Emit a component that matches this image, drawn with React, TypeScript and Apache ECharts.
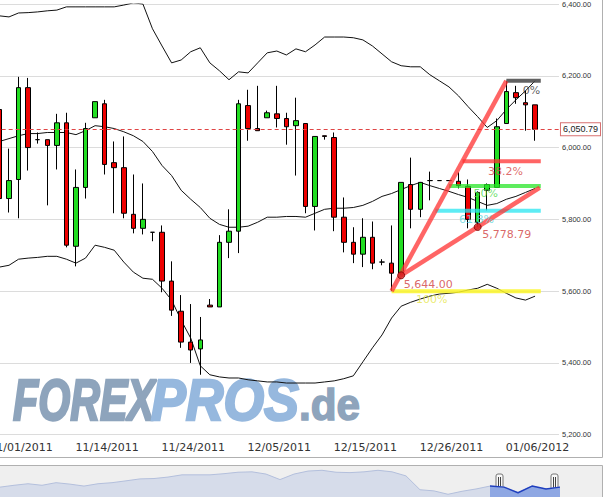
import React, { useEffect, useRef } from "react";
import * as echarts from "echarts";

// ---------- data ----------
const tickLabels = ["11/01/2011", "11/14/2011", "11/24/2011", "12/05/2011", "12/15/2011", "12/26/2011", "01/06/2012"];
const tickCandles = [2, 11, 20, 29, 38, 47, 56];
const slotCount = 59;

const openP = [6106, 5858, 5911, 6167, 6022, 6022, 6006, 6069, 5725, 5889, 6083, 6122, 5958, 5944, 5814, 5775, 5764, 5764, 5628, 5544, 5458, 5439, 5561, 5556, 5736, 5767, 6117, 6053, 6083, 6094, 6081, 6061, 6067, 5836, 6033, 6028, 5806, 5736, 5703, 5750, 5681, 5678, 5650, 5897, 5828, 5908, 5908, 5908, 5906, 5892, 5792, 5881, 5889, 6067, 6153, 6125, 6119];
const closeP = [5858, 5908, 6167, 6000, 6022, 6006, 6069, 5728, 5889, 6053, 6128, 5953, 5944, 5817, 5775, 5800, 5764, 5628, 5547, 5458, 5436, 5464, 5556, 5736, 5767, 6122, 6053, 6047, 6097, 6081, 6058, 6075, 5836, 6031, 6031, 5806, 5736, 5703, 5750, 5678, 5681, 5650, 5903, 5828, 5903, 5908, 5908, 5908, 5894, 5800, 5875, 5897, 6058, 6156, 6139, 6119, 6050.79];
const lowP = [5850, 5819, 5803, 5936, 6011, 5839, 5939, 5722, 5669, 5858, 6083, 5925, 5817, 5803, 5761, 5758, 5739, 5597, 5531, 5442, 5400, 5367, 5556, 5556, 5692, 5706, 6019, 6047, 6083, 6056, 6008, 5922, 5817, 5769, 6022, 5767, 5708, 5678, 5667, 5661, 5672, 5600, 5644, 5775, 5806, 5853, 5908, 5908, 5886, 5775, 5778.79, 5825, 5889, 6067, 6122, 6047, 6019];
const highP = [6117, 5997, 6197, 6194, 6042, 6022, 6094, 6097, 5939, 6069, 6128, 6133, 6017, 6031, 5925, 5900, 5764, 5783, 5683, 5589, 5564, 5528, 5578, 5756, 5828, 6133, 6161, 6172, 6103, 6172, 6097, 6139, 6067, 6031, 6033, 6042, 5861, 5778, 5803, 5794, 5689, 5783, 5903, 5972, 5903, 5933, 5908, 5908, 5931, 5911, 5878, 5900, 6081, 6186, 6172, 6158, 6119];

const upperBand = [6367, 6364, 6375, 6376, 6378, 6381, 6383, 6392, 6392, 6392, 6392, 6392, 6392, 6397, 6403, 6400, 6331, 6283, 6236, 6244, 6267, 6278, 6236, 6214, 6189, 6211, 6208, 6236, 6264, 6269, 6258, 6275, 6267, 6286, 6308, 6308, 6308, 6306, 6300, 6283, 6261, 6239, 6228, 6225, 6225, 6203, 6186, 6169, 6144, 6114, 6086, 6056, 6075, 6106, 6133, 6158, 6186];
const middleBand = [6017, 6025, 6033, 6039, 6039, 6042, 6042, 6042, 6036, 6047, 6061, 6058, 6053, 6044, 6033, 6017, 5989, 5950, 5922, 5881, 5856, 5833, 5803, 5786, 5778, 5778, 5781, 5792, 5806, 5806, 5808, 5808, 5806, 5817, 5828, 5831, 5831, 5833, 5839, 5850, 5864, 5872, 5883, 5894, 5903, 5894, 5886, 5878, 5869, 5861, 5850, 5839, 5844, 5856, 5864, 5875, 5886];
const lowerBand = [5667, 5672, 5689, 5692, 5694, 5697, 5697, 5689, 5678, 5692, 5728, 5722, 5714, 5681, 5653, 5636, 5633, 5608, 5575, 5519, 5469, 5392, 5367, 5361, 5358, 5358, 5353, 5350, 5347, 5347, 5344, 5344, 5344, 5344, 5347, 5350, 5356, 5364, 5403, 5442, 5478, 5525, 5558, 5569, 5578, 5586, 5592, 5594, 5597, 5603, 5608, 5619, 5608, 5594, 5581, 5575, 5586];

const lastPrice = 6050.79;

const fibHigh = { index: 53, value: 6186 };
const fibLow = { index: 41, value: 5600 };
const fibRatios = [0, 0.382, 0.5, 0.618, 1];
const fibNames = ["0%", "38.2%", "50%", "61.8%", "100%"];
const fibEndIndex = 56.6;

const pivotA = { index: 42, value: 5644.0 };
const pivotB = { index: 50, value: 5778.79 };
const trendEndIndex = 56.5;

const navValues = [5919, 6097, 6248, 6097, 6351, 6210, 6022, 6248, 6351, 6530, 6718, 6755, 6896, 7113, 7113, 7113, 7225, 7366, 7404, 7188, 6652, 7188, 7479, 7554, 7366, 7329, 7404, 7554, 7404, 7009, 5665, 5552, 5223, 5515, 5740, 6022, 5919, 5374, 6022, 5740, 5919];
const navSelectedFrom = 35;

// ---------- styles ----------
const OFF = 20; // chart div is shifted 20px left of the page
const fibLineColors = ["rgba(70,70,70,0.85)", "rgba(255,50,50,0.75)", "rgba(40,230,40,0.75)", "rgba(40,230,240,0.75)", "rgba(250,245,40,0.85)"];
const fibTextColors = ["#333333", "#d64545", "#4dd84d", "#5fd8e0", "#e6e64a"];
const fibTextOffsets = [[16, 10], [25, 10], [24, 8], [23, 9], [24, 8]];
const redLine = "rgba(255,50,50,0.75)";

function fmt(v: number) {
  return v.toLocaleString("en-US", { minimumFractionDigits: 2, maximumFractionDigits: 2 });
}

function handle(x: number) {
  return {
    type: "group",
    z: 20,
    children: [
      { type: "rect", shape: { x: x, y: 474, width: 7, height: 17, r: 2 }, style: { fill: "#f8f8f8", stroke: "#777", lineWidth: 1 } },
      { type: "line", shape: { x1: x + 2.5, y1: 477, x2: x + 2.5, y2: 488 }, style: { stroke: "#444", lineWidth: 1 } },
      { type: "line", shape: { x1: x + 4.5, y1: 477, x2: x + 4.5, y2: 488 }, style: { stroke: "#444", lineWidth: 1 } },
    ],
  };
}

export default function App() {
  const ref = useRef<HTMLDivElement>(null);

  useEffect(() => {
    if (!ref.current) return;
    const chart = echarts.init(ref.current, undefined, { renderer: "svg" });

    const categories = Array.from({ length: slotCount }, (_, i) => {
      const k = tickCandles.indexOf(i);
      return k >= 0 ? tickLabels[k] : "";
    });
    const candles = openP.map((o, i) => [o, closeP[i], lowP[i], highP[i]]);

    const span = fibHigh.value - fibLow.value;
    const fibLevels = fibRatios.map((r) => fibHigh.value - r * span);
    const fibStarts = fibLevels.map(
      (lv) => fibLow.index + ((lv - fibLow.value) / span) * (fibHigh.index - fibLow.index)
    );

    const fibSeries = fibLevels.map((lv, k) => ({
      type: "line",
      xAxisIndex: 1,
      yAxisIndex: 0,
      z: 5,
      silent: true,
      symbol: "none",
      lineStyle: { color: fibLineColors[k], width: 4 },
      data: [[fibStarts[k], lv], [fibEndIndex, lv]],
    }));

    const slope = (pivotB.value - pivotA.value) / (pivotB.index - pivotA.index);
    const trendEnd = pivotA.value + slope * (trendEndIndex - pivotA.index);

    const labelData = [
      ...fibLevels.map((lv, k) => ({
        value: [fibStarts[k], lv],
        label: { formatter: fibNames[k], color: fibTextColors[k], offset: fibTextOffsets[k] },
      })),
      { value: [pivotA.index, pivotA.value], label: { formatter: fmt(pivotA.value), color: "#d04040", offset: [2, 9] } },
      { value: [pivotB.index, pivotB.value], label: { formatter: fmt(pivotB.value), color: "#d04040", offset: [4, 8] } },
    ];

    const bandLine = (data: number[]) => ({
      type: "line",
      xAxisIndex: 0,
      yAxisIndex: 0,
      z: 2,
      silent: true,
      symbol: "none",
      lineStyle: { color: "#111", width: 1 },
      data,
    });

    const wmFont = 'italic bold 58px "Liberation Sans"';

    chart.setOption({
      animation: false,
      backgroundColor: "#ffffff",
      grid: [
        { left: OFF - 5.34, top: 2.7, width: 564.3, height: 432 },
        { left: OFF, top: 467, width: 560, height: 31 },
      ],
      xAxis: [
        {
          type: "category",
          gridIndex: 0,
          data: categories,
          boundaryGap: true,
          axisLine: { show: false },
          axisTick: { show: false },
          splitLine: { show: false },
          axisLabel: {
            interval: 0,
            fontSize: 11,
            fontFamily: "DejaVu Sans",
            color: "#333",
            margin: 7,
            padding: [0, 0, 0, 5],
          },
        },
        { type: "value", gridIndex: 0, min: -0.5, max: slotCount - 0.5, show: false },
        {
          type: "category",
          gridIndex: 1,
          data: navValues.map((_, i) => String(i)),
          boundaryGap: false,
          show: false,
        },
      ],
      yAxis: [
        {
          type: "value",
          gridIndex: 0,
          position: "right",
          min: 5200,
          max: 6400,
          interval: 200,
          axisLine: { show: true, lineStyle: { color: "#d0d0d0" } },
          axisTick: { show: false },
          splitLine: { show: true, lineStyle: { color: "#dcdcdc", width: 1 } },
          axisLabel: {
            fontSize: 7.5,
            fontFamily: "Liberation Sans",
            color: "#333",
            margin: 3,
            formatter: (v: number) => fmt(v),
          },
        },
        { type: "value", gridIndex: 1, min: 4960, max: 7874, show: false },
      ],
      graphic: [
        {
          type: "text",
          z: -1,
          x: 13 + OFF,
          y: 400,
          scaleX: 0.71,
          silent: true,
          style: { text: "FOREX", font: wmFont, fill: "#8ea4bc", stroke: "#8ea4bc", lineWidth: 2.5, verticalAlign: "middle" },
        },
        {
          type: "text",
          z: -1,
          x: 151 + OFF,
          y: 400,
          scaleX: 0.9,
          silent: true,
          style: { text: "PROS", font: wmFont, fill: "#96b8de", stroke: "#96b8de", lineWidth: 2.5, verticalAlign: "middle" },
        },
        {
          type: "text",
          z: -1,
          x: 299 + OFF,
          y: 405,
          scaleX: 0.96,
          silent: true,
          style: { text: ".de", font: 'bold 44px "Liberation Sans"', fill: "#8ea4bc", stroke: "#8ea4bc", lineWidth: 1.5, verticalAlign: "middle" },
        },
        {
          type: "rect",
          z: 20,
          silent: true,
          shape: { x: -1 + OFF, y: -0.5, width: 603.5, height: 458 },
          style: { fill: "none", stroke: "#b0b0b0", lineWidth: 1 },
        },
        {
          type: "rect",
          z: -2,
          silent: true,
          shape: { x: -1 + OFF, y: 465.5, width: 603.5, height: 40 },
          style: { fill: "#efefef", stroke: "#b0b0b0", lineWidth: 1 },
        },
        handle(496 + OFF),
        handle(551 + OFF),
      ],
      series: [
        bandLine(upperBand),
        bandLine(middleBand),
        bandLine(lowerBand),
        {
          type: "candlestick",
          xAxisIndex: 0,
          yAxisIndex: 0,
          z: 3,
          barWidth: 5,
          silent: true,
          itemStyle: {
            color: "#22dd22",
            color0: "#ee0000",
            borderColor: "#000",
            borderColor0: "#000",
            borderColorDoji: "#000",
            borderWidth: 1,
          },
          data: candles,
          markLine: {
            silent: true,
            symbol: "none",
            lineStyle: { color: "#e04545", type: [4, 3], width: 1, opacity: 1 },
            label: {
              show: true,
              position: "end",
              distance: 2,
              formatter: fmt(lastPrice),
              fontSize: 9,
              fontFamily: "Liberation Sans",
              color: "#222",
              backgroundColor: "#fff",
              borderColor: "#d87070",
              borderWidth: 1,
              padding: [2, 2, 1, 2],
            },
            data: [{ yAxis: lastPrice }],
          },
        },
        ...fibSeries,
        {
          type: "line",
          xAxisIndex: 1,
          yAxisIndex: 0,
          z: 6,
          silent: true,
          symbol: "none",
          lineStyle: { color: redLine, width: 4.5 },
          data: [[fibLow.index, fibLow.value], [fibHigh.index, fibHigh.value]],
        },
        {
          type: "line",
          xAxisIndex: 1,
          yAxisIndex: 0,
          z: 6,
          silent: true,
          symbol: "none",
          lineStyle: { color: redLine, width: 4.5 },
          data: [[pivotA.index, pivotA.value], [trendEndIndex, trendEnd]],
        },
        {
          type: "scatter",
          xAxisIndex: 1,
          yAxisIndex: 0,
          z: 7,
          silent: true,
          symbolSize: 7,
          itemStyle: { color: "#d02020", borderColor: "#7a0000", borderWidth: 1 },
          data: [[pivotA.index, pivotA.value], [pivotB.index, pivotB.value]],
        },
        {
          type: "scatter",
          xAxisIndex: 1,
          yAxisIndex: 0,
          z: 8,
          silent: true,
          symbolSize: 1,
          itemStyle: { color: "transparent" },
          label: { show: true, position: "right", distance: 0, fontSize: 11, fontFamily: "DejaVu Sans" },
          data: labelData,
        },
        {
          type: "line",
          xAxisIndex: 2,
          yAxisIndex: 1,
          silent: true,
          symbol: "none",
          lineStyle: { color: "#b3bfdc", width: 1 },
          areaStyle: { color: "#d6dcea", opacity: 1 },
          data: navValues,
        },
        {
          type: "line",
          xAxisIndex: 2,
          yAxisIndex: 1,
          silent: true,
          symbol: "none",
          z: 3,
          lineStyle: { color: "#1f3fbf", width: 1.5 },
          areaStyle: { color: "#8ea7e3", opacity: 1 },
          data: navValues.map((v, i) => (i >= navSelectedFrom ? v : "-")),
        },
      ],
    });

    return () => chart.dispose();
  }, []);

  return (
    <div style={{ position: "fixed", left: 0, top: 0, width: 605, height: 497, overflow: "hidden", background: "#fff" }}>
      <div ref={ref} style={{ position: "absolute", left: -OFF, top: 0, width: 605 + OFF, height: 497 }} />
    </div>
  );
}
